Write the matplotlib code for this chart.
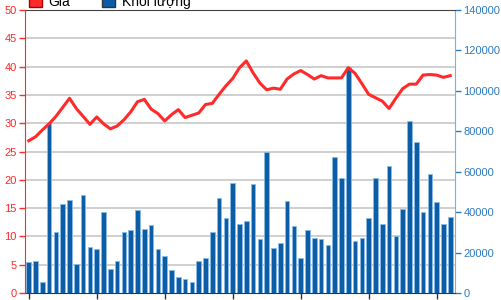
import matplotlib
matplotlib.use("Agg")
import matplotlib.pyplot as plt
from matplotlib.patches import Patch
from matplotlib.ticker import MultipleLocator

plt.rcParams['font.family'] = ['Liberation Sans', 'DejaVu Sans']

# --- Data ---
price = [26.9, 27.6, 28.8, 29.9, 31.2, 32.8, 34.4, 32.6, 31.2, 29.8,
         31.1, 29.9, 29.0, 29.5, 30.6, 32.0, 33.8, 34.2, 32.5, 31.7,
         30.4, 31.5, 32.4, 31.0, 31.4, 31.8, 33.3, 33.5, 35.1, 36.6,
         37.9, 39.8, 41.0, 38.9, 37.1, 35.9, 36.2, 36.0, 37.8, 38.7,
         39.3, 38.6, 37.8, 38.4, 38.0, 38.0, 38.0, 39.8, 38.8, 37.0,
         35.1, 34.5, 33.9, 32.6, 34.4, 36.1, 36.9, 36.9, 38.5, 38.6,
         38.5, 38.1, 38.4]

volume = [15100, 15700, 5300, 84300, 30200, 44200, 45900, 14300, 48400, 23000,
          21600, 40300, 11800, 15700, 30000, 31100, 40900, 31900, 33600, 21600,
          18200, 11200, 7800, 6700, 5300, 15700, 17100, 30200, 47000, 37000,
          54300, 34200, 35600, 54000, 26600, 70000, 22400, 24600, 45600, 33000,
          17100, 31100, 27000, 26900, 23500, 67500, 57100, 112000, 25500, 27400,
          37000, 57100, 34200, 62700, 28300, 41400, 85100, 74800, 40000, 58800,
          44800, 34200, 37500]

x = list(range(len(price)))

fig = plt.figure(figsize=(5.01, 3.0), dpi=100)
ax2 = fig.add_axes([25 / 501, 7 / 300, 430 / 501, 283 / 300])  # volume (right)
ax1 = ax2.twinx()                                              # price (left)
ax1.yaxis.tick_left()
ax1.yaxis.set_label_position('left')
ax2.yaxis.tick_right()

red = '#ff2a2a'
blue = '#2e7bbf'

# volume bars
ax2.bar(x, volume, width=0.68, color='#0b5ea6', edgecolor='#8bbbe6',
        linewidth=0.6, zorder=3)
ax2.set_ylim(0, 140000)
ax2.yaxis.set_major_locator(MultipleLocator(20000))
ax2.yaxis.set_minor_locator(MultipleLocator(14000))
ax2.grid(which='minor', axis='y', color='#cfcfcf', linewidth=1.4, zorder=0)
ax2.tick_params(axis='y', which='minor', length=0)
ax2.tick_params(axis='y', which='major', colors=blue, labelcolor=blue,
                labelsize=8, length=4, width=1, pad=2,
                left=False, right=True, labelleft=False, labelright=True)
ax2.set_xlim(-0.55, 62.7)
ax2.set_xticks(x[::10])
ax2.tick_params(axis='x', length=4, width=1, color='#333333', labelbottom=False)

# price line
ax1.plot(x, price, color=red, linewidth=2.2, solid_joinstyle='round', zorder=5)
ax1.set_ylim(0, 50)
ax1.yaxis.set_major_locator(MultipleLocator(5))
ax1.tick_params(axis='y', colors=red, labelcolor=red, labelsize=8,
                length=4, width=1, pad=2,
                left=True, right=False, labelleft=True, labelright=False)

ax1.set_zorder(ax2.get_zorder() + 1)
ax1.patch.set_visible(False)

for a in (ax1, ax2):
    for s in a.spines.values():
        s.set_visible(False)
ax1.spines['left'].set_visible(True)
ax1.spines['left'].set_color(red)
ax2.spines['right'].set_visible(True)
ax2.spines['right'].set_color('#7fb0dc')
ax2.spines['top'].set_visible(True)
ax2.spines['top'].set_color('#444444')
ax2.spines['bottom'].set_visible(True)
ax2.spines['bottom'].set_color('#333333')

# legend (partly cut off at the top, as in the source)
handles = [Patch(facecolor=red, edgecolor='#aa0000', label='Giá'),
           Patch(facecolor='#0b5ea6', edgecolor='#333333', label='Khối lượng')]
fig.legend(handles=handles, loc='center left', bbox_to_anchor=(0.058, 0.995),
           ncol=2, frameon=False, fontsize=10, handlelength=0.9,
           handleheight=0.9, handletextpad=0.5, columnspacing=2.3,
           borderpad=0, borderaxespad=0)

fig.savefig('out.png', dpi=100)
